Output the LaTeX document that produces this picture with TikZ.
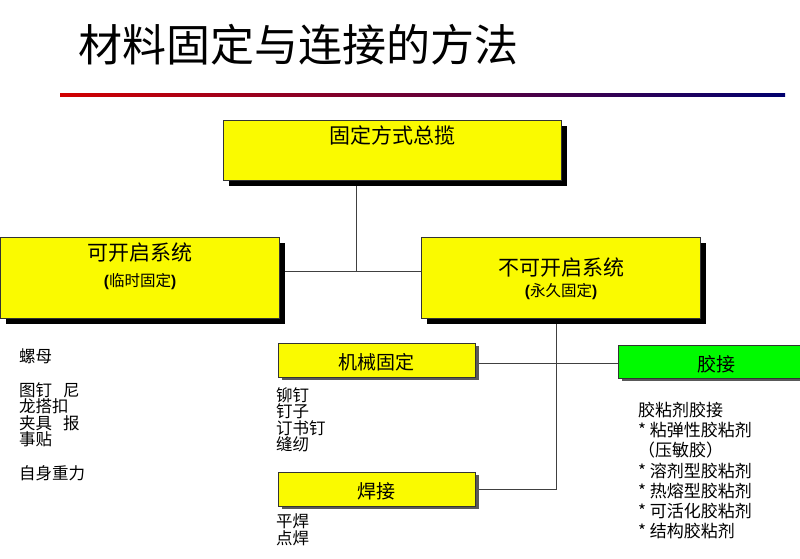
\documentclass[tikz,border=0pt]{standalone}
\usepackage{fontspec}
\setmainfont{Noto Sans CJK SC}
\newfontfamily\latinb{Liberation Sans}
\usetikzlibrary{shadows}
\pgfdeclarelayer{bg}
\pgfsetlayers{bg,main}
\definecolor{boxyellow}{RGB}{250,250,0}
\definecolor{boxgreen}{RGB}{0,250,0}
\definecolor{navyline}{RGB}{0,0,110}
\definecolor{redline}{RGB}{210,0,0}
\begin{document}
\begin{tikzpicture}[x=1pt,y=-1pt,
  bigbox/.style={draw=black!80, line width=0.8pt, fill=boxyellow, inner sep=0,
    general shadow={fill=black, shadow xshift=6pt, shadow yshift=-6pt}},
  smallbox/.style={draw=black!80, line width=0.8pt, fill=boxyellow, inner sep=0,
    font=\fontsize{19}{19}\selectfont, text height=19.5pt, text depth=0pt,
    general shadow={fill=black!65, shadow xshift=4pt, shadow yshift=-3pt}},
  conn/.style={draw=black!75, line width=0.8pt},
  lbl/.style={inner sep=0, font=\fontsize{21}{21}\selectfont},
  sublbl/.style={inner sep=0, font=\fontsize{15.5}{15.5}\selectfont},
  list/.style={inner sep=0, anchor=north west, align=left, font=\fontsize{16.5}{16.6}\selectfont},
]
\path[use as bounding box, clip] (0,0) rectangle (800,559);

\node[anchor=west, inner sep=0, font=\fontsize{44}{44}\selectfont] (title) at (78,45) {材料固定与连接的方法};
\shade[left color=redline, right color=navyline] (60,93.5) rectangle (785,96.5);

\node[bigbox, minimum width=338, minimum height=60] (top) at (392,150) {};
\node[lbl] (topt) at (392,135) {固定方式总揽};

\node[bigbox, minimum width=279, minimum height=81] (left) at (139.5,277.5) {};
\node[lbl] (leftt) at (140,253) {可开启系统};
\node[sublbl] (lefts) at (140,282) {{\latinb\bfseries(}临时固定{\latinb\bfseries)}};

\node[bigbox, minimum width=279, minimum height=81] (right) at (560.5,277.5) {};
\node[lbl] (rightt) at (561,268) {不可开启系统};
\node[sublbl] (rights) at (561,292) {{\latinb\bfseries(}永久固定{\latinb\bfseries)}};

\node[smallbox, minimum width=197, minimum height=34] (mech) at (376.5,360) {机械固定};
\node[smallbox, fill=boxgreen, minimum width=196, minimum height=33] (glue) at (716,361.5) {胶接};
\node[smallbox, minimum width=197, minimum height=34] (weld) at (376.5,489) {焊接};

\coordinate (hub) at (356,271);
\coordinate (drop) at (556,489);
\begin{pgfonlayer}{bg}
\draw[conn] (top.south -| hub) -- (hub);
\draw[conn] (left.east |- hub) -- (right.west |- hub);
\draw[conn] (right.south -| drop) -- (drop) -- (weld.east |- drop);
\draw[conn] (mech.east |- 0,363) -- (glue.west |- 0,363);
\end{pgfonlayer}

\node[list] (leftlist) at (19,349) {螺母\\[16.6pt]图钉\hspace{11pt}尼\\龙搭扣\\夹具\hspace{11pt}报\\事贴\\[16.6pt]自身重力};
\node[list] (mechlist) at (276,387) {铆钉\\钉子\\订书钉\\缝纫};
\node[list] (weldlist) at (276,514) {平焊\\点焊};
\node[list, font=\fontsize{17}{20.2}\selectfont] (gluelist) at (638,402) {胶粘剂胶接\\* 粘弹性胶粘剂\\（压敏胶）\\* 溶剂型胶粘剂\\* 热熔型胶粘剂\\* 可活化胶粘剂\\* 结构胶粘剂};
\end{tikzpicture}
\end{document}
